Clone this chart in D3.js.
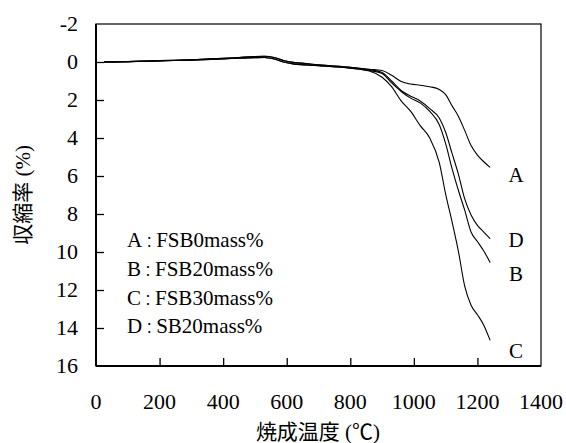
<!DOCTYPE html>
<html>
<head>
<meta charset="utf-8">
<script src="https://cdn.jsdelivr.net/npm/d3@7"></script>
<style>
  body { margin: 0; background: #fff; }
  svg text { font-family: "Liberation Serif", "Noto Sans CJK JP", serif; fill: #000; }
</style>
</head>
<body>
<svg width="566" height="443"></svg>
<script>
// temperatures (°C) shared by every curve
var temps = [25, 100, 200, 300, 400, 450, 500, 530, 560, 590, 620, 660, 700, 800, 860, 900, 930, 960, 990, 1020, 1050, 1080, 1100, 1120, 1140, 1160, 1180, 1200, 1220, 1240];

// shrinkage (%) for each sample
var seriesA = [0, -0.02, -0.07, -0.12, -0.19, -0.24, -0.29, -0.3, -0.24, -0.08, 0.02, 0.08, 0.15, 0.28, 0.38, 0.45, 0.7, 1.02, 1.16, 1.22, 1.3, 1.45, 1.72, 2.3, 2.85, 3.6, 4.4, 4.9, 5.25, 5.55];
var seriesB = [0, -0.02, -0.06, -0.1, -0.16, -0.2, -0.23, -0.24, -0.16, 0.0, 0.1, 0.15, 0.2, 0.32, 0.45, 0.6, 1.1, 1.55, 1.9, 2.15, 2.6, 3.3, 4.3, 5.6, 6.75, 7.8, 8.95, 9.45, 9.95, 10.55];
var seriesC = [0, -0.02, -0.06, -0.1, -0.16, -0.2, -0.23, -0.24, -0.16, 0.0, 0.1, 0.15, 0.2, 0.32, 0.47, 0.8, 1.3, 2.05, 2.6, 3.35, 4.0, 5.3, 6.95, 8.4, 9.95, 11.8, 12.8, 13.3, 13.85, 14.65];
var seriesD = [0, -0.02, -0.07, -0.12, -0.19, -0.24, -0.29, -0.3, -0.24, -0.08, 0.02, 0.08, 0.15, 0.28, 0.4, 0.55, 1.0, 1.5, 1.8, 2.05, 2.45, 2.95, 3.7, 4.8, 5.9, 7.2, 8.05, 8.6, 8.95, 9.3];

var seriesNames = ["A", "B", "C", "D"];
var legendKeys = ["A", "B", "C", "D"];
var legendNames = ["FSB0mass%", "FSB20mass%", "FSB30mass%", "SB20mass%"];
var xTicks = [0, 200, 400, 600, 800, 1000, 1200, 1400];
var yTicks = [-2, 0, 2, 4, 6, 8, 10, 12, 14, 16];

var svg = d3.select("svg");
var plotL = 96, plotR = 541, plotT = 24, plotB = 366;

var x = d3.scaleLinear().domain([0, 1400]).range([plotL, plotR]);
var y = d3.scaleLinear().domain([-2, 16]).range([plotT, plotB]);

// frame: thin top/right, heavier left/bottom
svg.append("rect")
  .attr("x", plotL).attr("y", plotT)
  .attr("width", plotR - plotL).attr("height", plotB - plotT)
  .attr("fill", "none").attr("stroke", "#000").attr("stroke-width", 1.2);

var yAxis = svg.append("g")
  .attr("transform", "translate(" + plotL + ",0)")
  .call(d3.axisRight(y).tickValues(yTicks.slice(1, -1)).tickSize(8).tickFormat(""));
yAxis.select(".domain").attr("stroke-width", 2).attr("d", "M0," + plotT + "V" + plotB);
yAxis.selectAll("line").attr("stroke-width", 1.3);

var xAxis = svg.append("g")
  .attr("transform", "translate(0," + plotB + ")")
  .call(d3.axisTop(x).tickValues(xTicks.slice(1, -1)).tickSize(8).tickFormat(""));
xAxis.select(".domain").attr("stroke-width", 2).attr("d", "M" + plotL + ",0H" + plotR);
xAxis.selectAll("line").attr("stroke-width", 1.3);

// tick labels
svg.append("g").selectAll("text")
  .data(yTicks).enter().append("text")
  .attr("x", 78)
  .attr("y", function (d) { return y(d); })
  .attr("dy", "0.34em")
  .attr("text-anchor", "end")
  .style("font-size", "22px")
  .text(function (d) { return d; });

svg.append("g").selectAll("text")
  .data(xTicks).enter().append("text")
  .attr("x", function (d) { return x(d); })
  .attr("y", 409)
  .attr("text-anchor", "middle")
  .style("font-size", "22px")
  .text(function (d) { return d; });

// axis titles
svg.append("text")
  .attr("x", 318).attr("y", 439)
  .attr("text-anchor", "middle")
  .style("font-size", "21px")
  .text("焼成温度 (℃)");

svg.append("text")
  .attr("transform", "translate(30,195) rotate(-90)")
  .attr("text-anchor", "middle")
  .style("font-size", "21px")
  .text("収縮率 (%)");

// curves
var line = d3.line()
  .x(function (d) { return x(d[0]); })
  .y(function (d) { return y(d[1]); })
  .curve(d3.curveMonotoneX);

var allSeries = [seriesA, seriesB, seriesC, seriesD];
allSeries.forEach(function (vals) {
  svg.append("path")
    .datum(d3.zip(temps, vals))
    .attr("d", line)
    .attr("fill", "none")
    .attr("stroke", "#000")
    .attr("stroke-width", 1.1);
});

// end labels beside each curve
var endLabelY = { A: 181.5, B: 281, C: 357.5, D: 246.5 };
seriesNames.forEach(function (n) {
  svg.append("text")
    .attr("x", 516).attr("y", endLabelY[n])
    .attr("text-anchor", "middle")
    .style("font-size", "21px")
    .text(n);
});

// legend block
var legend = svg.append("g").selectAll("text")
  .data(legendKeys).enter().append("text")
  .attr("x", 127)
  .attr("y", function (d, i) { return 247 + i * 28.8; })
  .style("font-size", "21px");
legend.append("tspan").text(function (d) { return d; });
legend.append("tspan").style("font-size", "14px").text("\uFF1A");
legend.append("tspan").text(function (d, i) { return legendNames[i]; });
</script>
</body>
</html>
